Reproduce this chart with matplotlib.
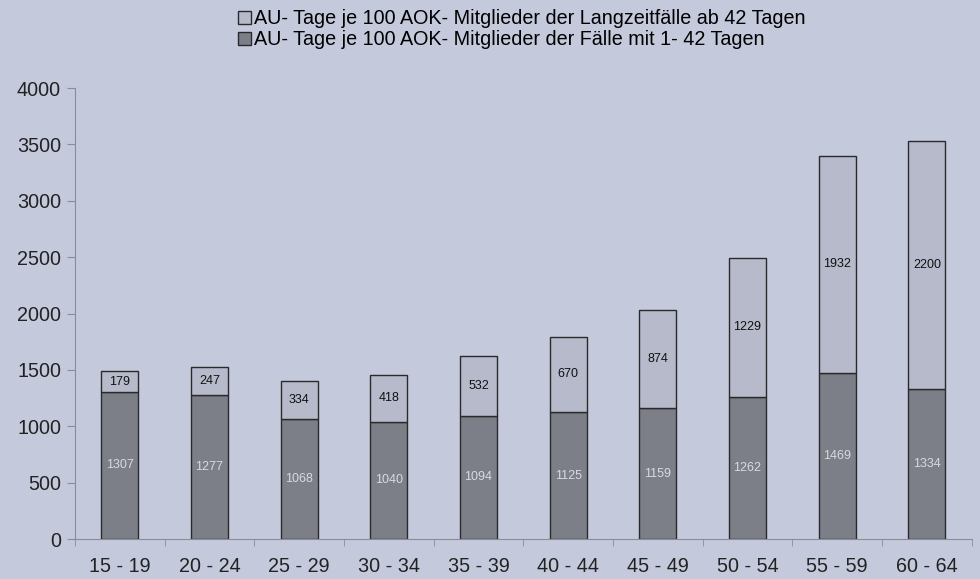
import numpy as np
import matplotlib.pyplot as plt

plt.rcParams['font.family'] = ['Liberation Sans', 'DejaVu Sans']

# ~~~ data ~~~
groups = ['15 - 19', '20 - 24', '25 - 29', '30 - 34', '35 - 39',
          '40 - 44', '45 - 49', '50 - 54', '55 - 59', '60 - 64']
short_cases = [1307, 1277, 1068, 1040, 1094, 1125, 1159, 1262, 1469, 1334]
long_cases = [179, 247, 334, 418, 532, 670, 874, 1229, 1932, 2200]
lab_long = 'AU- Tage je 100 AOK- Mitglieder der Langzeitfälle ab 42 Tagen'
lab_short = 'AU- Tage je 100 AOK- Mitglieder der Fälle mit 1- 42 Tagen'

bg = '#c4c9dc'
dark = '#7d7f88'
light = '#b6bacb'
axcol = '#8a8d98'

fig = plt.figure(figsize=(9.8, 5.79), dpi=100, facecolor=bg)
ax = fig.add_axes([0.0765, 0.069, 0.915, 0.779], facecolor=bg)

x = np.arange(len(groups))
w = 0.41
b1 = ax.bar(x, short_cases, w, color=dark, edgecolor='#2a2a2a', lw=1.0, label=lab_short)
b2 = ax.bar(x, long_cases, w, bottom=short_cases, color=light, edgecolor='#2a2a2a',
            lw=1.0, label=lab_long)

for i in range(len(groups)):
    ax.text(x[i], short_cases[i] / 2, str(short_cases[i]), ha='center', va='center',
            fontsize=9, color='#d8dae2')
    ax.text(x[i], short_cases[i] + long_cases[i] / 2, str(long_cases[i]), ha='center',
            va='center', fontsize=9, color='#111111')

ax.set_xlim(-0.5, len(groups) - 0.5)
ax.set_ylim(0, 4000)
ax.set_yticks(range(0, 4001, 500))
ax.set_xticks(x)
ax.set_xticklabels(groups)
ax.set_xticks(np.arange(-0.5, len(groups)), minor=True)
ax.tick_params(axis='x', which='major', length=0, pad=13, labelsize=14.2, colors='#222222')
ax.tick_params(axis='x', which='minor', length=5, color=axcol, direction='out')
ax.tick_params(axis='y', length=6, color=axcol, labelsize=14.2, labelcolor='#222222', pad=4)
for s in ['top', 'right']:
    ax.spines[s].set_visible(False)
ax.spines['left'].set_color(axcol)
ax.spines['bottom'].set_color(axcol)

h = [b2, b1]
leg = fig.legend(h, [lab_long, lab_short], loc='upper left', bbox_to_anchor=(0.229, 1.008),
                 frameon=False, fontsize=14.2, handlelength=0.65, handleheight=0.65,
                 handletextpad=0.15, labelspacing=0.1, borderaxespad=0.3)

fig.savefig('out.png', dpi=100, facecolor=bg)
